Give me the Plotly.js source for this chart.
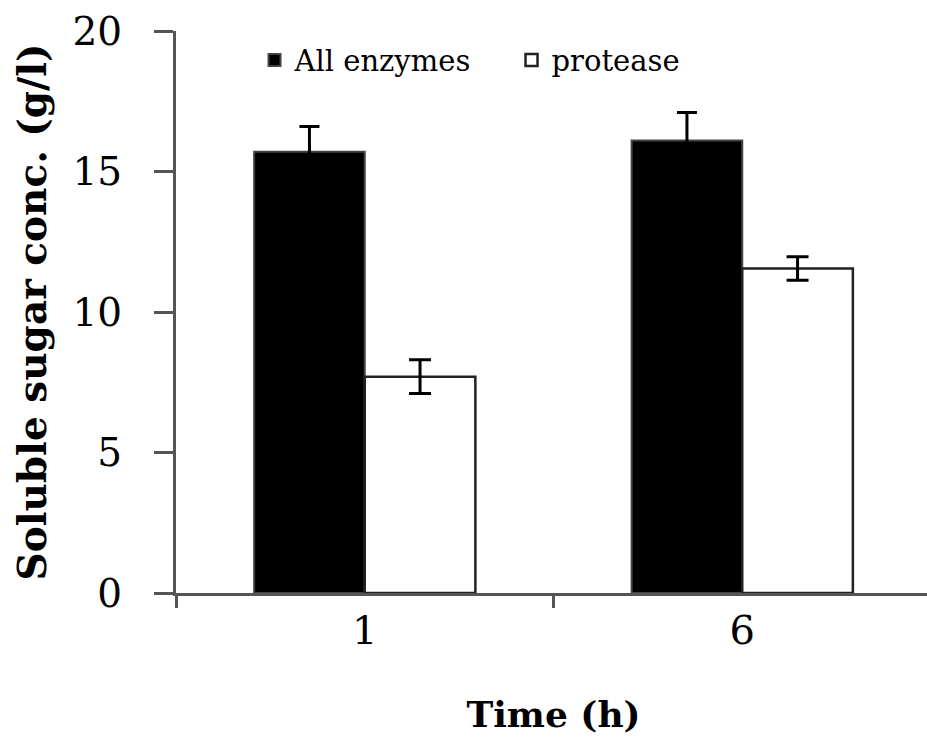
<!DOCTYPE html>
<html>
<head>
<meta charset="utf-8">
<script src="https://cdn.plot.ly/plotly-3.0.1.min.js"></script>
<style>html,body{margin:0;padding:0;background:#fff;overflow:hidden;}#chart{width:931px;height:740px;}</style>
</head>
<body>
<div id="chart"></div>
<script>
const categories = ['1', '6'];
const allEnzymes = [15.7, 16.1];
const allEnzymesErr = [0.9, 1.0];
const protease = [7.7, 11.55];
const proteaseErr = [0.6, 0.42];
const seriesNames = ['All enzymes', 'protease'];
const yTicks = [0, 5, 10, 15, 20];

const traces = [
  {
    type: 'bar', x: categories, y: allEnzymes, name: seriesNames[0],
    marker: {color: '#000000', line: {color: '#444444', width: 2}},
    error_y: {type: 'data', array: allEnzymesErr, visible: true, color: '#000000', thickness: 3, width: 10}
  },
  {
    type: 'bar', x: categories, y: protease, name: seriesNames[1],
    marker: {color: '#ffffff', line: {color: '#222222', width: 2.5}},
    error_y: {type: 'data', array: proteaseErr, visible: true, color: '#000000', thickness: 3, width: 11}
  }
];

const layout = {
  width: 931, height: 740,
  margin: {l: 176, r: 0, t: 31, b: 147},
  paper_bgcolor: '#ffffff', plot_bgcolor: '#ffffff',
  barmode: 'group', bargap: 0.414, bargroupgap: 0,
  font: {family: 'DejaVu Serif, Liberation Serif, serif', color: '#000000'},
  showlegend: true,
  legend: {
    orientation: 'h', x: 0.104, xanchor: 'left', y: 0.948, yanchor: 'middle',
    bgcolor: 'rgba(0,0,0,0)', font: {size: 29, family: 'DejaVu Serif, serif', color: '#000'},
    entrywidth: 212, entrywidthmode: 'pixels', traceorder: 'normal'
  },
  xaxis: {
    type: 'category', range: [-0.5, 1.5],
    showline: true, linecolor: '#555555', linewidth: 3,
    ticks: 'outside', tickson: 'boundaries', ticklen: 12, tickwidth: 3, tickcolor: '#555555',
    tickfont: {size: 40, family: 'DejaVu Serif, serif'},
    showgrid: false, zeroline: false,
    title: {text: '<b>Time (h)</b>', font: {size: 36, family: 'DejaVu Serif, serif'}, standoff: 50}
  },
  yaxis: {
    range: [0, 20], tickvals: yTicks, ticktext: yTicks.map(String),
    showline: true, linecolor: '#555555', linewidth: 3,
    ticks: 'outside', ticklen: 19, tickwidth: 3, tickcolor: '#555555',
    tickfont: {size: 39, family: 'DejaVu Serif, serif'},
    ticklabelstandoff: 24,
    showgrid: false, zeroline: false,
    title: {text: '<b>Soluble sugar conc. (g/l)</b>', font: {size: 39, family: 'DejaVu Serif, serif'}, standoff: 14}
  }
};

Plotly.newPlot('chart', traces, layout, {displayModeBar: false, staticPlot: true});
</script>
</body>
</html>
